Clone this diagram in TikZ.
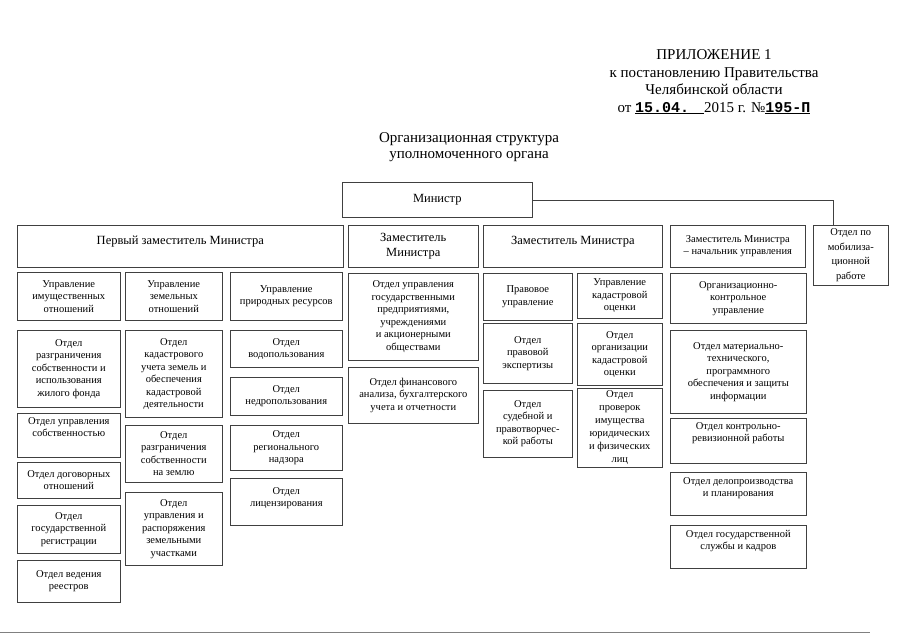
\documentclass[tikz,border=0pt]{standalone}
\usepackage{fontspec}
\setmainfont{Liberation Serif}
\newfontfamily\typefont{Liberation Mono}
\usetikzlibrary{positioning}

\begin{document}
\begin{tikzpicture}[x=1pt, y=-1pt,
    cell/.style={draw=black!75, line width=0.6pt, anchor=north west, align=center, inner sep=2pt,
      font=\fontsize{10.5}{12.5}\selectfont},
    head/.style={cell, font=\fontsize{12.5}{15}\selectfont},
    lift/.style={text height=20.5pt, text depth=#1}]
  \useasboundingbox (0,0) rectangle (905,640);
  % Header text
  \node[align=center, font=\fontsize{15}{17.5}\selectfont] (annex) at (714,82)
    {ПРИЛОЖЕНИЕ 1\\к постановлению Правительства\\Челябинской области\\
     от \underline{{\typefont\bfseries 15.04.}\quad}2015 г. №\underline{\typefont\bfseries 195-П}};
  \node[align=center, font=\fontsize{15}{16}\selectfont] (title) at (469,147)
    {Организационная структура\\уполномоченного органа};
  % Minister
  \node[head, minimum width=190pt, minimum height=35pt] (minister) at (342,182) {Министр};
  \node[cell, minimum width=75pt, minimum height=60pt, font=\fontsize{10.5}{14.5}\selectfont] (mob) at (813,225) {Отдел по\\мобилиза-\\ционной\\работе};
  \coordinate (mobtop) at (833,225);
  % Row 1: deputies
  \node[head, minimum width=326pt, minimum height=42pt, text height=12pt, text depth=16pt] (first) at (17,225) {Первый заместитель Министра};
  \node[head, minimum width=130pt, minimum height=42pt] (dep1) at (348,225) {Заместитель\\Министра};
  \node[head, minimum width=179pt, minimum height=42pt, text height=12pt, text depth=16pt] (dep2) at (483,225) {Заместитель Министра};
  \node[cell, minimum width=135pt, minimum height=42pt] (dep3) at (670,225) {Заместитель Министра\\– начальник управления};
  % Column 1
  \node[cell, minimum width=103pt, minimum height=48pt] (prop) at (17,272) {Управление\\имущественных\\отношений};
  \node[cell, minimum width=103pt, minimum height=77pt] (propdiv) at (17,330) {Отдел\\разграничения\\собственности и\\использования\\жилого фонда};
  \node[cell, minimum width=103pt, minimum height=44pt, lift=17.5pt] (propman) at (17,413) {Отдел управления\\собственностью};
  \node[cell, minimum width=103pt, minimum height=36pt] (contr) at (17,462) {Отдел договорных\\отношений};
  \node[cell, minimum width=103pt, minimum height=48pt] (reg) at (17,505) {Отдел\\государственной\\регистрации};
  \node[cell, minimum width=103pt, minimum height=42pt] (regs) at (17,560) {Отдел ведения\\реестров};
  % Column 2
  \node[cell, minimum width=97pt, minimum height=48pt] (land) at (125,272) {Управление\\земельных\\отношений};
  \node[cell, minimum width=97pt, minimum height=87pt] (cad) at (125,330) {Отдел\\кадастрового\\учета земель и\\обеспечения\\кадастровой\\деятельности};
  \node[cell, minimum width=97pt, minimum height=57pt] (landdiv) at (125,425) {Отдел\\разграничения\\собственности\\на землю};
  \node[cell, minimum width=97pt, minimum height=73pt] (plots) at (125,492) {Отдел\\управления и\\распоряжения\\земельными\\участками};
  % Column 3
  \node[cell, minimum width=112pt, minimum height=48pt] (nat) at (230,272) {Управление\\природных ресурсов};
  \node[cell, minimum width=112pt, minimum height=37pt] (water) at (230,330) {Отдел\\водопользования};
  \node[cell, minimum width=112pt, minimum height=38pt] (subsoil) at (230,377) {Отдел\\недропользования};
  \node[cell, minimum width=112pt, minimum height=45pt] (superv) at (230,425) {Отдел\\регионального\\надзора};
  \node[cell, minimum width=112pt, minimum height=47pt, lift=10.5pt] (lic) at (230,478) {Отдел\\лицензирования};
  % Column 4
  \node[cell, minimum width=130pt, minimum height=87pt] (ent) at (348,273) {Отдел управления\\государственными\\предприятиями,\\учреждениями\\и акционерными\\обществами};
  \node[cell, minimum width=130pt, minimum height=56pt] (fin) at (348,367) {Отдел финансового\\анализа, бухгалтерского\\учета и отчетности};
  % Column 5
  \node[cell, minimum width=89pt, minimum height=47pt] (law) at (483,273) {Правовое\\управление};
  \node[cell, minimum width=89pt, minimum height=60pt] (exp) at (483,323) {Отдел\\правовой\\экспертизы};
  \node[cell, minimum width=89pt, minimum height=67pt] (court) at (483,390) {Отдел\\судебной и\\правотворчес-\\кой работы};
  % Column 6
  \node[cell, minimum width=85pt, minimum height=45pt] (val) at (577,273) {Управление\\кадастровой\\оценки};
  \node[cell, minimum width=85pt, minimum height=62pt] (valorg) at (577,323) {Отдел\\организации\\кадастровой\\оценки};
  \node[cell, minimum width=85pt, minimum height=79pt, font=\fontsize{10.5}{13}\selectfont] (audit) at (577,388) {Отдел\\проверок\\имущества\\юридических\\и физических\\лиц};
  % Column 7
  \node[cell, minimum width=136pt, minimum height=50pt] (ctrl) at (670,273) {Организационно-\\контрольное\\управление};
  \node[cell, minimum width=136pt, minimum height=83pt] (mat) at (670,330) {Отдел материально-\\технического,\\программного\\обеспечения и защиты\\информации};
  \node[cell, minimum width=136pt, minimum height=45pt, lift=18.5pt] (rev) at (670,418) {Отдел контрольно-\\ревизионной работы};
  \node[cell, minimum width=136pt, minimum height=43pt, lift=14.5pt] (docs) at (670,472) {Отдел делопроизводства\\и планирования};
  \node[cell, minimum width=136pt, minimum height=43pt, lift=14.5pt] (staff) at (670,525) {Отдел государственной\\службы и кадров};

  % Connections
  \draw[black!75, line width=0.6pt] (minister.east) -| (mobtop);
  % page edge
  \coordinate (edgeL) at (0,632);
  \coordinate (edgeR) at (870,632);
  \draw[black!50, line width=0.5pt] (edgeL) -- (edgeR);
\end{tikzpicture}
\end{document}
